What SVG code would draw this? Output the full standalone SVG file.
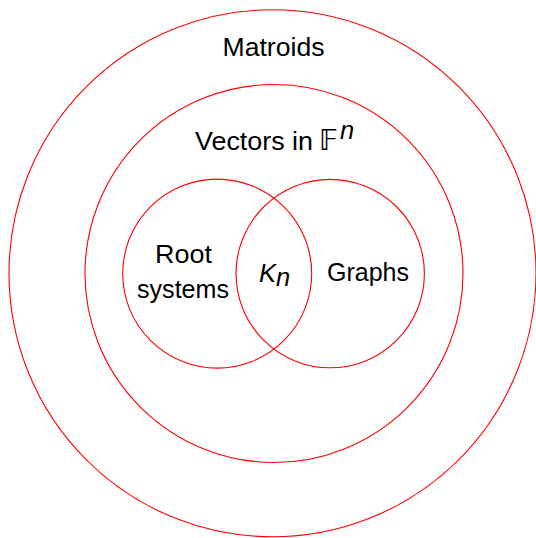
<svg xmlns="http://www.w3.org/2000/svg" width="536" height="538" viewBox="0 0 536 538">
<style>
.c{fill:none;stroke:#ff0000;stroke-width:1.1}
.t{font-family:"Liberation Sans","DejaVu Sans",sans-serif;font-size:25.5px;fill:#000}
.m{font-family:"DejaVu Sans",sans-serif;font-size:28px;fill:#000}
</style>
<rect width="536" height="538" fill="#fff"/>
<g id="matroids">
<circle class="c" cx="272.5" cy="273.3" r="263.5"/>
<text class="t" x="273.5" y="56" text-anchor="middle" textLength="102" lengthAdjust="spacingAndGlyphs">Matroids</text>
</g>
<g id="vectors">
<circle class="c" cx="274" cy="273.5" r="189"/>
<text class="t" x="195" y="149.5" textLength="118" lengthAdjust="spacingAndGlyphs">Vectors in</text>
<text class="m" x="319" y="149.5">𝔽</text>
<text class="t" x="340" y="139" font-size="17" font-style="italic">n</text>
</g>
<g id="root-systems">
<circle class="c" cx="217.2" cy="273.6" r="94.5"/>
<text class="t" x="183.5" y="263" text-anchor="middle" textLength="57" lengthAdjust="spacingAndGlyphs">Root</text>
<text class="t" x="183" y="298" text-anchor="middle" textLength="92" lengthAdjust="spacingAndGlyphs">systems</text>
</g>
<g id="graphs">
<circle class="c" cx="330.2" cy="273.6" r="94.2"/>
<text class="t" x="368" y="281" text-anchor="middle" textLength="82" lengthAdjust="spacingAndGlyphs">Graphs</text>
</g>
<g id="kn">
<text class="t" x="259" y="281.5" font-style="italic">K</text>
<text class="t" x="276" y="286" font-size="18" font-style="italic">n</text>
</g>
<g id="connectors"></g>
</svg>
